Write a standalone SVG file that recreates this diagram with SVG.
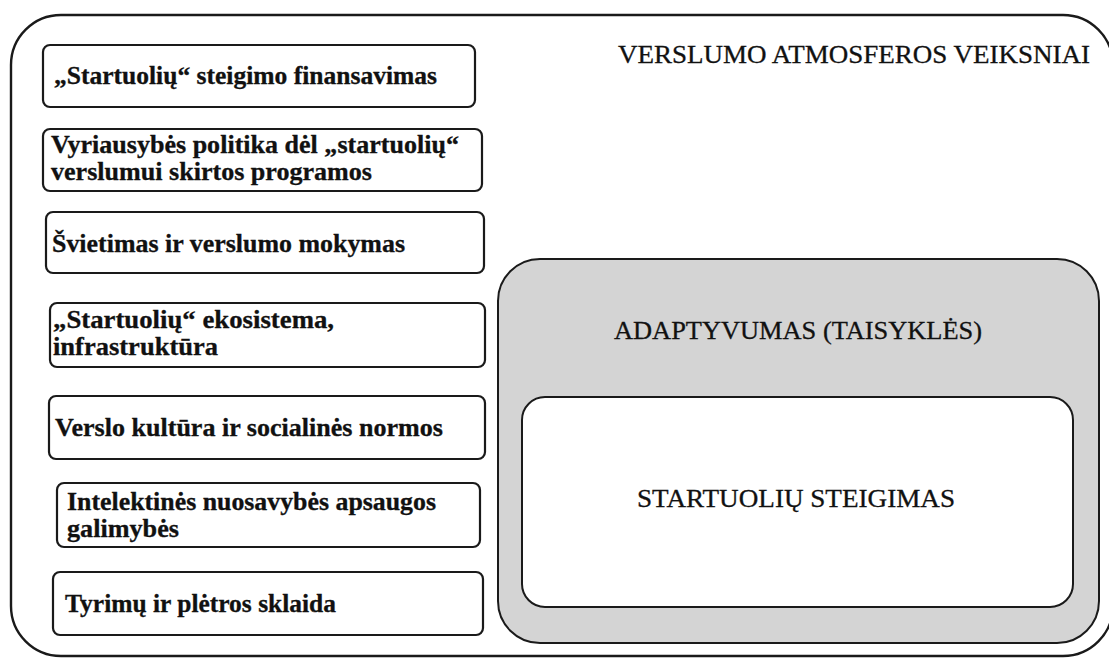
<svg xmlns="http://www.w3.org/2000/svg" width="1109" height="658" viewBox="0 0 1109 658">
  <style>
    .frame { fill: #ffffff; stroke: #1a1a1a; stroke-width: 2.4; }
    .factor { fill: #ffffff; stroke: #1a1a1a; stroke-width: 2.2; }
    .adapt { fill: #d4d4d4; stroke: #1a1a1a; stroke-width: 2; }
    .core { fill: #ffffff; stroke: #1a1a1a; stroke-width: 2; }
    .lbl { font-family: "Liberation Serif", "DejaVu Serif", serif; font-weight: 700; font-size: 25px; fill: #111111; stroke: #111111; stroke-width: 0.3; }
    .head { font-family: "Liberation Serif", "DejaVu Serif", serif; font-size: 25px; fill: #111111; stroke: #111111; stroke-width: 0.3; }
  </style>
  <rect width="1109" height="658" fill="#ffffff"/>

  <!-- outer environment frame -->
  <g id="environment">
    <rect class="frame" x="11" y="15" width="1102" height="641" rx="50" ry="50"/>
    <text class="head" x="618" y="63" textLength="472" lengthAdjust="spacingAndGlyphs">VERSLUMO ATMOSFEROS VEIKSNIAI</text>
  </g>

  <!-- factor boxes, left column -->
  <g id="factor-financing">
    <rect class="factor" x="43" y="45" width="432" height="62" rx="7"/>
    <text class="lbl" x="54" y="84" textLength="383" lengthAdjust="spacingAndGlyphs">„Startuolių“ steigimo finansavimas</text>
  </g>
  <g id="factor-policy">
    <rect class="factor" x="43" y="129" width="439" height="62" rx="7"/>
    <text class="lbl" x="51" y="153" textLength="408" lengthAdjust="spacingAndGlyphs">Vyriausybės politika dėl „startuolių“</text>
    <text class="lbl" x="51" y="180" textLength="321" lengthAdjust="spacingAndGlyphs">verslumui skirtos programos</text>
  </g>
  <g id="factor-education">
    <rect class="factor" x="46" y="212" width="438" height="61" rx="7"/>
    <text class="lbl" x="52" y="252" textLength="353" lengthAdjust="spacingAndGlyphs">Švietimas ir verslumo mokymas</text>
  </g>
  <g id="factor-ecosystem">
    <rect class="factor" x="50" y="303" width="435" height="64" rx="7"/>
    <text class="lbl" x="53" y="328" textLength="281" lengthAdjust="spacingAndGlyphs">„Startuolių“ ekosistema,</text>
    <text class="lbl" x="53" y="355" textLength="165" lengthAdjust="spacingAndGlyphs">infrastruktūra</text>
  </g>
  <g id="factor-culture">
    <rect class="factor" x="49" y="396" width="436" height="63" rx="7"/>
    <text class="lbl" x="55" y="436" textLength="388" lengthAdjust="spacingAndGlyphs">Verslo kultūra ir  socialinės normos</text>
  </g>
  <g id="factor-ip">
    <rect class="factor" x="57" y="483" width="423" height="64" rx="7"/>
    <text class="lbl" x="67" y="510" textLength="369" lengthAdjust="spacingAndGlyphs">Intelektinės nuosavybės apsaugos</text>
    <text class="lbl" x="67" y="537" textLength="112" lengthAdjust="spacingAndGlyphs">galimybės</text>
  </g>
  <g id="factor-rnd">
    <rect class="factor" x="53" y="572" width="430" height="63" rx="7"/>
    <text class="lbl" x="65" y="612" textLength="271" lengthAdjust="spacingAndGlyphs">Tyrimų ir plėtros sklaida</text>
  </g>

  <!-- adaptivity layer with the founding core inside -->
  <g id="adaptivity">
    <rect class="adapt" x="498" y="259" width="601" height="384" rx="42"/>
    <text class="head" x="614" y="339" textLength="368" lengthAdjust="spacingAndGlyphs">ADAPTYVUMAS (TAISYKLĖS)</text>
  </g>
  <g id="founding">
    <rect class="core" x="522" y="397" width="551" height="210" rx="23"/>
    <text class="head" x="637" y="507" textLength="318" lengthAdjust="spacingAndGlyphs">STARTUOLIŲ STEIGIMAS</text>
  </g>

  <!-- no connectors in this figure -->
  <g id="connectors"/>
</svg>
